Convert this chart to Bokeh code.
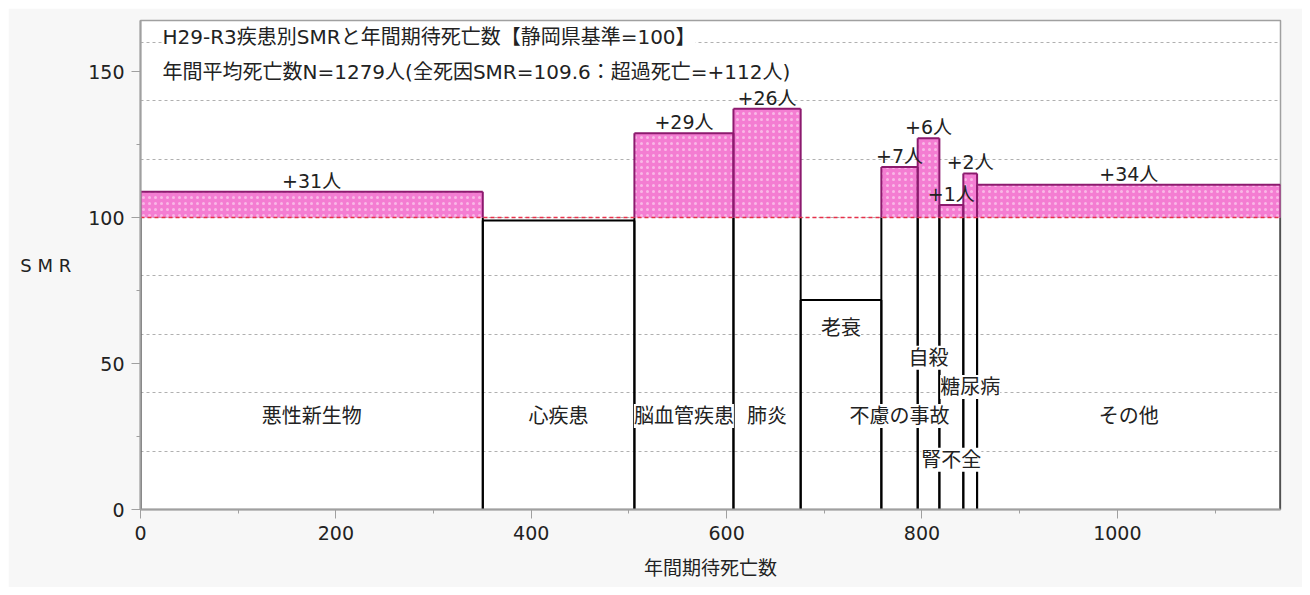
from bokeh.plotting import figure
from bokeh.models import Range1d, SingleIntervalTicker, LabelSet, Label, ColumnDataSource
from bokeh.core.properties import value
from bokeh.embed import file_html
from bokeh.resources import INLINE

# ---- data ----
categories = ["悪性新生物", "心疾患", "脳血管疾患", "肺炎", "老衰",
              "不慮の事故", "自殺", "腎不全", "糖尿病", "その他"]
expected = [350.4, 155.2, 101.4, 68.8, 82.6, 37.2, 22.2, 24.5, 14.1, 310.6]
smr = [108.8, 99.0, 128.9, 137.3, 71.8, 117.3, 127.2, 104.3, 115.1, 111.2]
excess = [31, -2, 29, 26, -23, 7, 6, 1, 2, 34]
reference = 100
title1 = "H29-R3疾患別SMRと年間期待死亡数【静岡県基準=100】"
title2 = "年間平均死亡数N=1279人(全死因SMR=109.6：超過死亡=+112人)"

# label heights (layout only)
label_level = [32, 32, 32, 32, 62, 32, 52, 17, 42, 32]

LATIN_CJK = "DejaVu Sans, Noto Sans CJK JP"

right = []
acc = 0.0
for e in expected:
    acc += e
    right.append(acc)
left = [r - e for r, e in zip(right, expected)]
mid = [(l + r) / 2 for l, r in zip(left, right)]
total = right[-1]

p = figure(width=1294, height=579, output_backend="svg", toolbar_location=None,
           x_range=Range1d(0, total), y_range=Range1d(0, 167.5),
           min_border_left=132, min_border_right=22, min_border_top=12, min_border_bottom=78)
p.margin = (8, 8, 8, 8)
p.border_fill_color = "#f7f7f7"
p.background_fill_color = "white"
p.outline_line_color = "#a0a0a0"
p.outline_line_width = 1.5

# grid
p.xgrid.visible = False
p.ygrid.ticker = SingleIntervalTicker(interval=20)
p.ygrid.grid_line_color = "#b0b0b0"
p.ygrid.grid_line_dash = "3 3"
p.ygrid.grid_line_width = 1

# lower (white) parts: black edges
low_top = [min(s, reference) for s in smr]
p.segment(x0=left, y0=[0] * len(left), x1=left, y1=low_top, line_color="black", line_width=2)
p.segment(x0=right, y0=[0] * len(right), x1=right, y1=low_top, line_color="black", line_width=2)
under = [i for i, s in enumerate(smr) if s < reference]
p.segment(x0=[left[i] for i in under], y0=[smr[i] for i in under],
          x1=[right[i] for i in under], y1=[smr[i] for i in under],
          line_color="black", line_width=2)

# upper (pink) parts
over = [i for i, s in enumerate(smr) if s > reference]
ol = [left[i] for i in over]
orr = [right[i] for i in over]
os_ = [smr[i] for i in over]
p.quad(left=ol, right=orr, bottom=[reference] * len(over), top=os_,
       fill_color="#f47dd2", line_alpha=0,
       hatch_pattern="dot", hatch_color="white", hatch_alpha=0.45,
       hatch_scale=6, hatch_weight=1)
mag = "#8c1a6e"
p.segment(x0=ol, y0=[reference] * len(over), x1=ol, y1=os_, line_color=mag, line_width=2)
p.segment(x0=orr, y0=[reference] * len(over), x1=orr, y1=os_, line_color=mag, line_width=2)
p.segment(x0=ol, y0=os_, x1=orr, y1=os_, line_color=mag, line_width=2)

# reference line
p.segment(x0=[0], y0=[reference], x1=[total], y1=[reference],
          line_color="#e8304a", line_width=1.5, line_dash="4 3")

# excess labels
ex_src = ColumnDataSource(dict(x=[mid[i] for i in over], y=os_,
                               text=[f"+{excess[i]}人" for i in over]))
p.add_layout(LabelSet(x="x", y="y", text="text", source=ex_src,
                      text_align="center", text_baseline="bottom",
                      text_font=value(LATIN_CJK), text_font_size=value("19px"),
                      text_color="#222222"))

# category labels
cat_src = ColumnDataSource(dict(x=mid, y=label_level, text=categories))
p.add_layout(LabelSet(x="x", y="y", text="text", source=cat_src,
                      text_align="center", text_baseline="middle",
                      text_font=value(LATIN_CJK), text_font_size=value("20px"),
                      text_color="#222222", background_fill_color="white"))

# titles inside plot
p.add_layout(Label(x=22.5, y=161.7, text=title1, text_font=LATIN_CJK, text_font_size="20px",
                   text_baseline="middle", text_color="#222222", background_fill_color="white"))
p.add_layout(Label(x=22.5, y=150.0, text=title2, text_font=LATIN_CJK, text_font_size="20px",
                   text_baseline="middle", text_color="#222222", background_fill_color="white"))

# axes
p.xaxis.ticker = SingleIntervalTicker(interval=200, num_minor_ticks=2)
p.yaxis.ticker = SingleIntervalTicker(interval=50, num_minor_ticks=2)
for ax in (p.xaxis, p.yaxis):
    ax.axis_line_color = "#a0a0a0"
    ax.axis_line_width = 2
    ax.major_tick_line_color = "#a0a0a0"
    ax.minor_tick_line_color = "#a0a0a0"
    ax.major_tick_in = 0
    ax.minor_tick_in = 0
    ax.major_tick_out = 9
    ax.minor_tick_out = 4
    ax.major_label_text_font = "DejaVu Sans"
    ax.major_label_text_font_size = "19px"
    ax.major_label_text_color = "#222222"
    ax.axis_label_text_font_style = "normal"
    ax.axis_label_text_color = "#222222"

p.xaxis.major_label_standoff = 7
p.xaxis.axis_label = "年間期待死亡数"
p.xaxis.axis_label_text_font = "Noto Sans CJK JP"
p.xaxis.axis_label_text_font_size = "19px"
p.xaxis.axis_label_standoff = 10

p.yaxis.major_label_standoff = 7
p.yaxis.axis_label = "S M R"
p.yaxis.axis_label_orientation = "horizontal"
p.yaxis.axis_label_text_font = "DejaVu Sans"
p.yaxis.axis_label_text_font_size = "18px"
p.yaxis.axis_label_standoff = 14

open("out.html", "w").write(file_html(p, INLINE))
